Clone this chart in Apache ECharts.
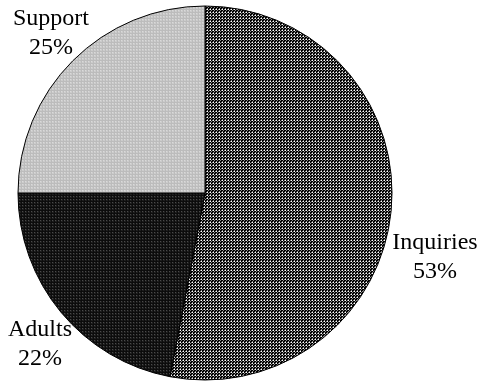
<!DOCTYPE html>
<html>
<head>
<meta charset="utf-8">
<script src="https://cdn.jsdelivr.net/npm/echarts@6/dist/echarts.min.js"></script>
<style>
  html, body { margin: 0; padding: 0; background: #fff; }
  #chart { width: 482px; height: 381px; }
</style>
</head>
<body>
<div id="chart"></div>
<script>
const categories = ['Inquiries', 'Adults', 'Support'];
const shares = [53, 22, 25];

// small repeating tiles to imitate the hatched fills
const makeTile = (rows) => {
  const c = document.createElement('canvas');
  c.width = rows[0].length;
  c.height = rows.length;
  const ctx = c.getContext('2d');
  rows.forEach((row, y) => {
    row.forEach((col, x) => {
      ctx.fillStyle = col;
      ctx.fillRect(x, y, 1, 1);
    });
  });
  return c;
};

const K = '#000', W = '#fff', G = '#8c8c8c';
const tiles = [
  makeTile([
    [W, K, G],
    [K, G, K],
    [G, K, K],
  ]),
  makeTile([
    ['#0c0c0c', '#0c0c0c', '#0c0c0c'],
    ['#0c0c0c', '#4a4a4a', '#1e1e1e'],
    ['#0c0c0c', '#1e1e1e', '#1e1e1e'],
  ]),
  makeTile([
    ['#bcbcbc', '#bcbcbc', '#bcbcbc'],
    ['#bcbcbc', '#dadada', '#cccccc'],
    ['#bcbcbc', '#cccccc', '#cccccc'],
  ]),
];

// where each label block sits (centre of the two lines)
const labelSpots = [[435, 257], [40, 344], [51, 33]];

const chart = echarts.init(document.getElementById('chart'), null, { renderer: 'canvas' });

chart.setOption({
  animation: false,
  backgroundColor: '#fff',
  series: [
    {
      type: 'pie',
      center: [205, 193],
      radius: 187,
      startAngle: 90,
      clockwise: true,
      avoidLabelOverlap: false,
      minShowLabelAngle: 0,
      itemStyle: {
        borderColor: '#000',
        borderWidth: 1,
      },
      label: {
        show: true,
        position: 'outside',
        formatter: (p) => `${p.name}\n${p.value}%`,
        fontFamily: "'Liberation Serif', 'Times New Roman', serif",
        fontSize: 24,
        lineHeight: 29,
        color: '#000',
        align: 'center',
        overflow: 'none',
        width: 120,
      },
      labelLine: { show: false },
      labelLayout: (params) => {
        const spot = labelSpots[params.dataIndex];
        return {
          x: spot[0],
          y: spot[1],
          align: 'center',
          verticalAlign: 'middle',
          hideOverlap: false,
        };
      },
      emphasis: { disabled: true },
      data: categories.map((name, i) => ({
        name,
        value: shares[i],
        itemStyle: { color: { image: tiles[i], repeat: 'repeat' } },
      })),
    },
  ],
});
</script>
</body>
</html>
